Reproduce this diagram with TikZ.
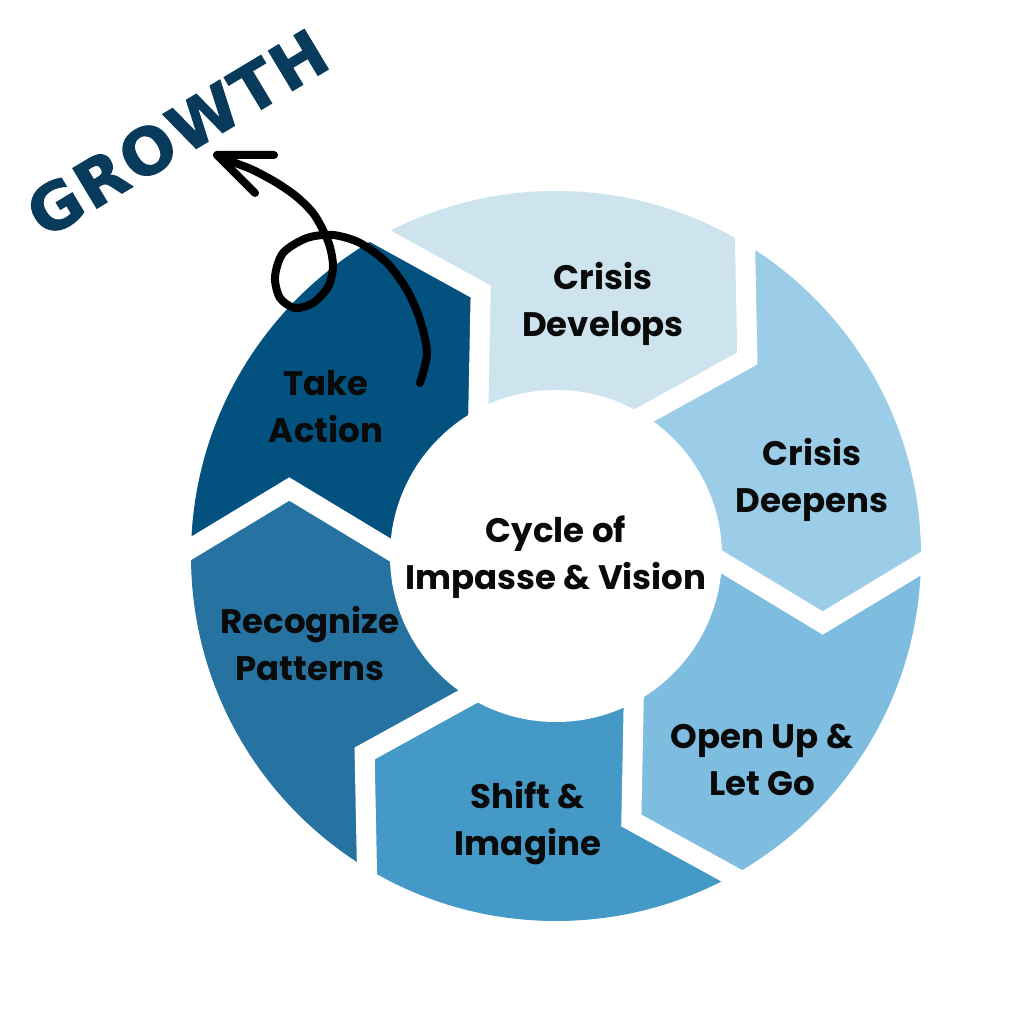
\documentclass[tikz,border=0pt]{standalone}
\usepackage{fontspec}
\setmainfont{Poppins}
\newfontfamily\growthfont{DejaVu Sans}[BoldFeatures={FakeBold=1.6}, LetterSpace=4]
\usetikzlibrary{calc}
\definecolor{cA}{HTML}{CDE4EE}
\definecolor{cB}{HTML}{9BCDE8}
\definecolor{cC}{HTML}{7EBCE0}
\definecolor{cD}{HTML}{4499C7}
\definecolor{cE}{HTML}{2673A1}
\definecolor{cF}{HTML}{03517F}
\definecolor{growth}{HTML}{083A5C}
\definecolor{ink}{HTML}{0A0A0A}
\begin{document}
\begin{tikzpicture}[x=1pt,y=1pt,
  lbl/.style={font=\fontsize{34}{47}\selectfont\bfseries, align=center, text=ink},
  gapline/.style={white, line width=20, line join=miter, miter limit=20},
  pen/.style={black, line width=8, line cap=round, line join=round}]
\useasboundingbox (0,0) rectangle (1024,1024);
\fill[white] (0,0) rectangle (1024,1024);
\coordinate (c) at (556,468);
\foreach \k/\t in {0/105.9,1/45.9,2/-14.1,3/-74.1,4/-134.1,5/-194.1}{
  \coordinate (T\k) at ($(c)+(\t:275)$);
  \coordinate (O\k) at ($(c)+({\t+12.9}:365)$);
  \coordinate (I\k) at ($(c)+({\t+12}:166)$);
  \coordinate (OO\k) at ($(T\k)!1.5!(O\k)$);
  \coordinate (II\k) at ($(T\k)!1.4!(I\k)$);
  \coordinate (F\k) at ($(c)+({\t+12.9}:800)$);
}
\begin{scope}
  \clip (c) circle (365);
  \fill[cA] (c) -- (II0) -- (T0) -- (OO0) -- (F0) -- (F1) -- (OO1) -- (T1) -- (II1) -- cycle;
  \fill[cB] (c) -- (II1) -- (T1) -- (OO1) -- (F1) -- (F2) -- (OO2) -- (T2) -- (II2) -- cycle;
  \fill[cC] (c) -- (II2) -- (T2) -- (OO2) -- (F2) -- (F3) -- (OO3) -- (T3) -- (II3) -- cycle;
  \fill[cD] (c) -- (II3) -- (T3) -- (OO3) -- (F3) -- (F4) -- (OO4) -- (T4) -- (II4) -- cycle;
  \fill[cE] (c) -- (II4) -- (T4) -- (OO4) -- (F4) -- (F5) -- (OO5) -- (T5) -- (II5) -- cycle;
  \fill[cF] (c) -- (II5) -- (T5) -- (OO5) -- (F5) -- (F0) -- (OO0) -- (T0) -- (II0) -- cycle;
\end{scope}
\foreach \k in {0,...,5}{
  \draw[gapline] (II\k) -- (T\k) -- (OO\k);
}
\fill[white] (c) circle (166);

\node[lbl] (cd) at (603,720) {Crisis\\Develops};
\node[lbl] (cdp) at (812,544) {Crisis\\Deepens};
\node[lbl] (cyc) at (556,467) {Cycle of\\Impasse \& Vision};
\node[lbl] (op) at (762,264) {Open Up \&\\Let Go};
\node[lbl] (sh) at (528,201) {Shift \&\\Imagine};
\node[lbl] (rp) at (310,380) {Recognize\\Patterns};
\node[lbl] (ta) at (326,617) {Take\\Action};

\node[font=\growthfont\bfseries\fontsize{64}{64}\selectfont, text=growth, rotate=31] (g) at (177,891) {GROWTH};

\draw[pen] plot[smooth, tension=0.5] coordinates {
 (420,641) (427,671) (420,704) (407,734) (387,761) (360,781) (333,789)
 (307,786) (283,771) (275,747) (280,726) (295,716) (313,721) (328,737)
 (333,757) (330,777) (323,794) (313,811) (297,827) (277,841) (253,854)
 (233,862) (218,869)};
\coordinate (tip) at (217,869);
\coordinate (h1) at (274,869);
\coordinate (h2) at (255,831);
\draw[pen] (h1) -- (tip) -- (h2);
\end{tikzpicture}
\end{document}
